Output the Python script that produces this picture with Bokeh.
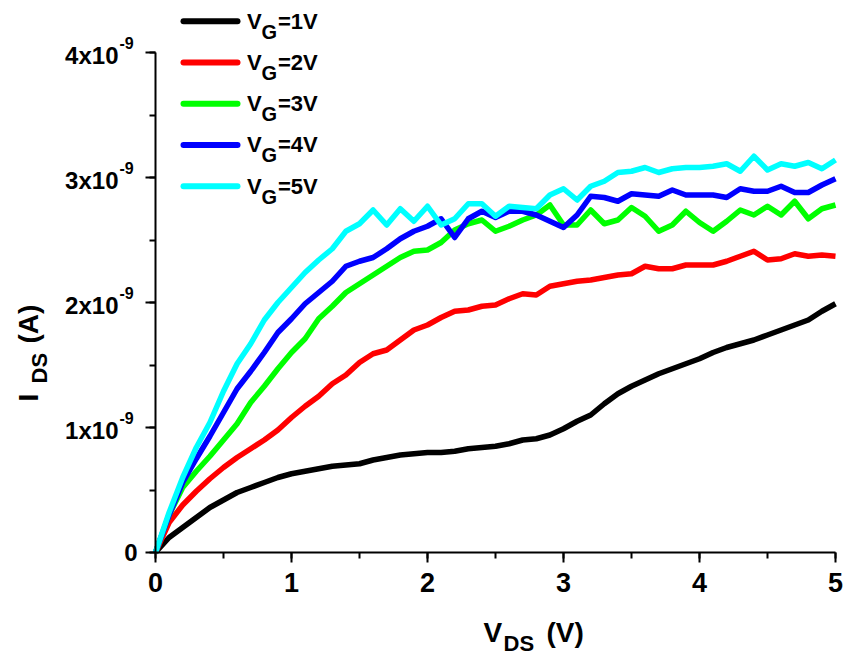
from bokeh.plotting import figure
from bokeh.models import Range1d, SingleIntervalTicker
from bokeh.core.properties import value
from bokeh.embed import file_html
from bokeh.resources import INLINE
import numpy as np

# ---------------- data (I_DS in units of 1e-9 A) ----------------
vds = [0.0, 0.1, 0.2, 0.3, 0.4, 0.5, 0.6, 0.7, 0.8, 0.9,
       1.0, 1.1, 1.2, 1.3, 1.4, 1.5, 1.6, 1.7, 1.8, 1.9,
       2.0, 2.1, 2.2, 2.3, 2.4, 2.5, 2.6, 2.7, 2.8, 2.9,
       3.0, 3.1, 3.2, 3.3, 3.4, 3.5, 3.6, 3.7, 3.8, 3.9,
       4.0, 4.1, 4.2, 4.3, 4.4, 4.5, 4.6, 4.7, 4.8, 4.9, 5.0]

ids_vg1 = [0.00, 0.12, 0.20, 0.28, 0.36, 0.42, 0.48, 0.52, 0.56, 0.60,
           0.63, 0.65, 0.67, 0.69, 0.70, 0.71, 0.74, 0.76, 0.78, 0.79,
           0.80, 0.80, 0.81, 0.83, 0.84, 0.85, 0.87, 0.90, 0.91, 0.94,
           0.99, 1.05, 1.10, 1.19, 1.27, 1.33, 1.38, 1.43, 1.47, 1.51,
           1.55, 1.60, 1.64, 1.67, 1.70, 1.74, 1.78, 1.82, 1.86, 1.93, 1.99]

ids_vg2 = [0.00, 0.24, 0.38, 0.49, 0.59, 0.68, 0.76, 0.83, 0.90, 0.98,
           1.08, 1.17, 1.25, 1.35, 1.42, 1.52, 1.59, 1.62, 1.70, 1.78,
           1.82, 1.88, 1.93, 1.94, 1.97, 1.98, 2.03, 2.07, 2.06, 2.13,
           2.15, 2.17, 2.18, 2.20, 2.22, 2.23, 2.29, 2.27, 2.27, 2.30,
           2.30, 2.30, 2.33, 2.37, 2.41, 2.34, 2.35, 2.39, 2.37, 2.38, 2.37]

ids_vg3 = [0.00, 0.30, 0.52, 0.65, 0.77, 0.90, 1.03, 1.20, 1.33, 1.47,
           1.60, 1.71, 1.87, 1.97, 2.08, 2.15, 2.22, 2.29, 2.36, 2.41,
           2.42, 2.48, 2.58, 2.63, 2.66, 2.57, 2.61, 2.66, 2.70, 2.78,
           2.62, 2.62, 2.74, 2.63, 2.66, 2.76, 2.69, 2.57, 2.62, 2.73,
           2.64, 2.57, 2.65, 2.74, 2.70, 2.77, 2.70, 2.81, 2.67, 2.75, 2.78]

ids_vg4 = [0.00, 0.30, 0.56, 0.75, 0.93, 1.12, 1.31, 1.45, 1.60, 1.76,
           1.87, 1.99, 2.08, 2.17, 2.29, 2.33, 2.36, 2.43, 2.51, 2.57,
           2.61, 2.67, 2.52, 2.67, 2.73, 2.68, 2.73, 2.73, 2.70, 2.65,
           2.60, 2.70, 2.85, 2.84, 2.81, 2.87, 2.86, 2.85, 2.90, 2.86,
           2.86, 2.86, 2.84, 2.91, 2.89, 2.89, 2.93, 2.88, 2.88, 2.94, 2.99]

ids_vg5 = [0.00, 0.32, 0.60, 0.84, 1.04, 1.29, 1.51, 1.67, 1.86, 2.00,
           2.12, 2.24, 2.34, 2.43, 2.57, 2.63, 2.74, 2.62, 2.75, 2.65,
           2.77, 2.62, 2.67, 2.79, 2.79, 2.69, 2.77, 2.76, 2.75, 2.86,
           2.91, 2.82, 2.93, 2.97, 3.04, 3.05, 3.08, 3.04, 3.07, 3.08,
           3.08, 3.09, 3.11, 3.05, 3.17, 3.06, 3.11, 3.09, 3.12, 3.07, 3.14]

series_names = ["1V", "2V", "3V", "4V", "5V"]
series_values = [ids_vg1, ids_vg2, ids_vg3, ids_vg4, ids_vg5]
series_colors = ["#000000", "#ff0000", "#00ff00", "#0000ff", "#00ffff"]

y_ticks = [1, 2, 3, 4]
y_tick_mantissa = ["1x10", "2x10", "3x10", "4x10"]
y_tick_exponent = ["-9", "-9", "-9", "-9"]
y_tick_zero = "0"

FONT = "Liberation Sans"

# ---------------- layout (page pixels) ----------------
W, H = 846, 655
AX_X0, AX_X1 = 155, 835      # page x of V_DS = 0 and 5
AX_Y0 = 552                  # page y of I_DS = 0
PX_PER_X = (AX_X1 - AX_X0) / 5.0
PX_PER_Y = 125.0


def dx(px):
    return (px - AX_X0) / PX_PER_X


def dy(py):
    return (AX_Y0 - py) / PX_PER_Y


p = figure(width=W, height=H,
           x_range=Range1d(dx(0), dx(W)), y_range=Range1d(dy(H), dy(0)),
           output_backend="svg", toolbar_location=None, title=None, min_border=0)
p.outline_line_color = None
p.xgrid.visible = False
p.ygrid.visible = False

for ax in (p.xaxis[0], p.yaxis[0]):
    ax.fixed_location = 0
    ax.axis_line_width = 2
    ax.major_tick_line_width = 2
    ax.minor_tick_line_width = 2
    ax.major_tick_in = 0
    ax.minor_tick_in = 0
    ax.major_tick_out = 10
    ax.minor_tick_out = 6
    ax.major_label_text_font = FONT
    ax.major_label_text_font_style = "bold"
    ax.major_label_text_color = "black"

p.xaxis.ticker = SingleIntervalTicker(interval=1, num_minor_ticks=2)
p.xaxis.bounds = (0, 5)
p.xaxis.major_label_text_font_size = "27px"
p.xaxis.major_label_standoff = 10

p.yaxis.ticker = SingleIntervalTicker(interval=1, num_minor_ticks=2)
p.yaxis.bounds = (0, 4)
p.yaxis.major_label_overrides = {0: "", 1: "", 2: "", 3: "", 4: ""}

for vals, col in zip(series_values, series_colors):
    p.line(vds, vals, line_color=col, line_width=5.5, line_join="round")


def txt(xs, ys, texts, size, align="left", angle=0.0):
    p.text(x=xs, y=ys, text=texts, angle=angle, text_font=value(FONT),
           text_font_size=size, text_font_style="bold", text_align=align,
           text_baseline="middle")


# ---------------- y tick labels with superscripts ----------------
txt([dx(118)] * len(y_ticks), [t - 2.7 / PX_PER_Y for t in y_ticks],
    y_tick_mantissa, "24px", align="right")
txt([dx(119)] * len(y_ticks), [t + 9.8 / PX_PER_Y for t in y_ticks],
    y_tick_exponent, "16px")
txt([dx(137)], [0.0], [y_tick_zero], "24px", align="right")

# ---------------- legend ----------------
LEG_Y0, LEG_PITCH = 20.7, 41.25
for i, (name, col) in enumerate(zip(series_names, series_colors)):
    yc = LEG_Y0 + i * LEG_PITCH
    p.segment(x0=[dx(183)], y0=[dy(yc)], x1=[dx(237)], y1=[dy(yc)],
              line_color=col, line_width=6, line_cap="round")
    txt([dx(246.5)], [dy(yc)], ["V"], "22px")
    txt([dx(261)], [dy(yc + 10.5)], ["G"], "20px")
    txt([dx(277.5)], [dy(yc)], ["=" + name], "22px")

# ---------------- axis titles ----------------
xtitle_parts = ["V", "DS", "(V)"]
xtitle_px = [483, 503, 546]
xtitle_py = [632, 643, 632]
xtitle_size = ["28px", "22px", "28px"]
for t, xx, yy, s in zip(xtitle_parts, xtitle_px, xtitle_py, xtitle_size):
    txt([dx(xx)], [dy(yy)], [t], s)

ytitle_parts = ["I", "DS", "(A)"]
ytitle_px = [28, 39, 28]
ytitle_py = [401, 383, 343]
ytitle_size = ["28px", "22px", "28px"]
for t, xx, yy, s in zip(ytitle_parts, ytitle_px, ytitle_py, ytitle_size):
    txt([dx(xx)], [dy(yy)], [t], s, angle=np.pi / 2)

open("out.html", "w").write(file_html(p, INLINE))
